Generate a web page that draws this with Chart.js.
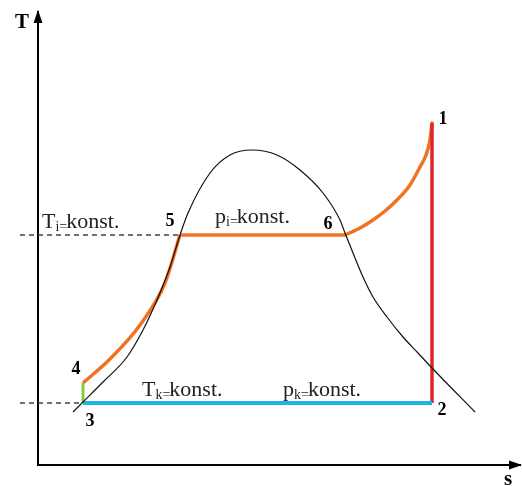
<!DOCTYPE html>
<html>
<head>
<meta charset="utf-8">
<script src="https://cdn.jsdelivr.net/npm/chart.js@4.4.1/dist/chart.umd.min.js"></script>
<style>
html,body{margin:0;padding:0;background:#fff;}
#wrap{width:522px;height:486px;position:relative;}
</style>
</head>
<body>
<div id="wrap"><canvas id="c" width="522" height="486"></canvas></div>
<script>
// Saturation dome (s, T) in arbitrary units
const domeS = [35, 45, 65, 89, 105, 119, 132, 142, 150, 172, 192, 214, 239, 262, 285, 302, 307, 315, 325, 335, 349, 365, 380, 394, 437];
const domeT = [53, 63, 83, 108, 135, 165, 198, 230, 252, 292, 310, 315, 310, 295, 272, 245, 232, 212, 188, 168, 148, 128, 112, 97, 53];

// Cycle: 4 -> 5 (liquid heating)
const heatS = [45, 72, 102, 127, 142];
const heatT = [82, 106, 140, 182, 230];
// 5 -> 6 (evaporation, p_i = konst.)
const evapS = [142, 307];
const evapT = [230, 230];
// 6 -> 1 (superheating)
const superS = [307, 322, 335, 347, 359, 372, 382, 388, 392, 394];
const superT = [230, 237, 245, 254, 265, 280, 298, 310, 325, 342];
// 1 -> 2 (expansion)
const expS = [394, 394];
const expT = [342, 62];
// 2 -> 3 (condensation, T_k / p_k = konst.)
const condS = [394, 45];
const condT = [62, 62];
// 3 -> 4 (pump)
const pumpS = [45, 45];
const pumpT = [62, 82];
// Dashed reference lines
const refHiS = [-18, 142];
const refHiT = [230, 230];
const refLoS = [-18, 45];
const refLoT = [62, 62];

// Point numbers and axis names: text, s, T
const markText = ['1', '2', '3', '4', '5', '6', 'T', 's'];
const markS    = [405, 404, 52, 38, 132, 290, -16, 470];
const markT    = [346, 55, 44, 96, 244, 241, 442, -15];
// Condition notes: main letter, subscript, rest, s, T (baseline)
const noteMain = ['T', 'p', 'T', 'p'];
const noteSub  = ['i=', 'i=', 'k=', 'k='];
const noteRest = ['konst.', 'konst.', 'konst.', 'konst.'];
const noteS    = [4, 177, 104, 245];
const noteT    = [237, 242, 69, 69];

function pts(xs, ys) { return xs.map((x, i) => ({x: x, y: ys[i]})); }

const annot = {
  id: 'annot',
  afterDraw(chart) {
    const ctx = chart.ctx, xs = chart.scales.x, ys = chart.scales.y;
    ctx.save();
    // axis arrowheads
    ctx.fillStyle = '#000';
    const x0 = xs.getPixelForValue(0), y0 = ys.getPixelForValue(0);
    const yTop = ys.getPixelForValue(ys.max), xEnd = xs.getPixelForValue(xs.max);
    ctx.beginPath();
    ctx.moveTo(x0, yTop - 2); ctx.lineTo(x0 - 4.5, yTop + 11); ctx.lineTo(x0 + 4.5, yTop + 11); ctx.closePath(); ctx.fill();
    ctx.beginPath();
    ctx.moveTo(xEnd + 2, y0); ctx.lineTo(xEnd - 11, y0 - 4.5); ctx.lineTo(xEnd - 11, y0 + 4.5); ctx.closePath(); ctx.fill();
    // point numbers and axis names
    ctx.textBaseline = 'middle';
    ctx.textAlign = 'center';
    for (let i = 0; i < markText.length; i++) {
      const big = (markText[i] === 'T' || markText[i] === 's');
      ctx.font = 'bold ' + (big ? 21 : 18) + 'px "Liberation Serif"';
      ctx.fillText(markText[i], xs.getPixelForValue(markS[i]), ys.getPixelForValue(markT[i]));
    }
    // notes with subscripts
    ctx.textBaseline = 'alphabetic';
    ctx.textAlign = 'left';
    ctx.fillStyle = '#222';
    for (let i = 0; i < noteMain.length; i++) {
      let x = xs.getPixelForValue(noteS[i]);
      const y = ys.getPixelForValue(noteT[i]);
      ctx.font = '22px "Liberation Serif"';
      ctx.fillText(noteMain[i], x, y);
      x += ctx.measureText(noteMain[i]).width;
      ctx.font = '14px "Liberation Serif"';
      ctx.fillText(noteSub[i], x, y + 3);
      x += ctx.measureText(noteSub[i]).width - 1;
      ctx.font = '22px "Liberation Serif"';
      ctx.fillText(noteRest[i], x, y);
    }
    ctx.restore();
  }
};

const base = {showLine: true, pointRadius: 0, fill: false};

new Chart(document.getElementById('c'), {
  type: 'scatter',
  data: {
    datasets: [
      Object.assign({}, base, {data: pts(refHiS, refHiT), borderColor: '#444', borderWidth: 1.3, borderDash: [5, 4], clip: false}),
      Object.assign({}, base, {data: pts(refLoS, refLoT), borderColor: '#444', borderWidth: 1.3, borderDash: [5, 4], clip: false}),
      Object.assign({}, base, {data: pts(domeS, domeT), borderColor: '#111', borderWidth: 1.2, cubicInterpolationMode: 'monotone'}),
      Object.assign({}, base, {data: pts(condS, condT), borderColor: '#1EB4E6', borderWidth: 4}),
      Object.assign({}, base, {data: pts(pumpS, pumpT), borderColor: '#8DCB3C', borderWidth: 3}),
      Object.assign({}, base, {data: pts(expS, expT), borderColor: '#E0252B', borderWidth: 3.5}),
      Object.assign({}, base, {data: pts(heatS, heatT), borderColor: '#EE7424', borderWidth: 3.5, cubicInterpolationMode: 'monotone'}),
      Object.assign({}, base, {data: pts(evapS, evapT), borderColor: '#EE7424', borderWidth: 3.5}),
      Object.assign({}, base, {data: pts(superS, superT), borderColor: '#EE7424', borderWidth: 3.5, cubicInterpolationMode: 'monotone', borderCapStyle: 'round'})
    ]
  },
  options: {
    responsive: false,
    animation: false,
    layout: {padding: {left: 30, right: 2, top: 12, bottom: 13}},
    plugins: {legend: {display: false}, tooltip: {enabled: false}},
    scales: {
      x: {type: 'linear', min: 0, max: 482,
          ticks: {display: false}, grid: {display: false},
          border: {display: true, color: '#000', width: 2}},
      y: {type: 'linear', min: 0, max: 453,
          ticks: {display: false}, grid: {display: false},
          border: {display: true, color: '#000', width: 2}}
    }
  },
  plugins: [annot]
});
</script>
</body>
</html>
